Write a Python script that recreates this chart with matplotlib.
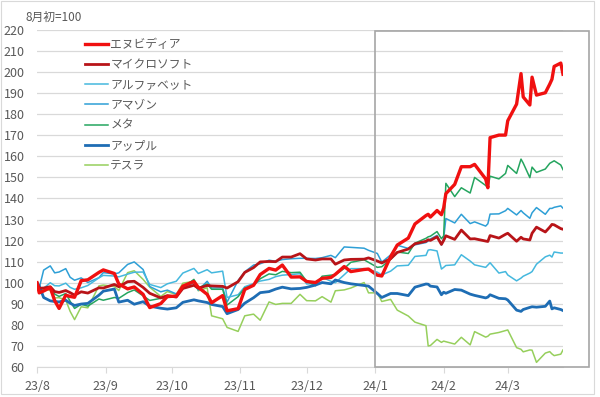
import numpy as np
import pandas as pd
import matplotlib
matplotlib.use('Agg')
import matplotlib.pyplot as plt
from matplotlib.patches import Rectangle

plt.rcParams['font.family'] = ['Noto Sans CJK JP', 'DejaVu Sans']

#---------------- data (index, 8月初=100) ----------------
dates = ['2023-08-01', '2023-08-02', '2023-08-04', '2023-08-07', '2023-08-09', '2023-08-11',
         '2023-08-14', '2023-08-16', '2023-08-18', '2023-08-21', '2023-08-24', '2023-08-29',
         '2023-08-31', '2023-09-05', '2023-09-07', '2023-09-11', '2023-09-14', '2023-09-18',
         '2023-09-21', '2023-09-26', '2023-09-29', '2023-10-03', '2023-10-06', '2023-10-11',
         '2023-10-13', '2023-10-17', '2023-10-19', '2023-10-24', '2023-10-26', '2023-10-31',
         '2023-11-03', '2023-11-07', '2023-11-10', '2023-11-14', '2023-11-17', '2023-11-20',
         '2023-11-24', '2023-11-28', '2023-12-01', '2023-12-05', '2023-12-08', '2023-12-12',
         '2023-12-14', '2023-12-18', '2023-12-21', '2023-12-27', '2023-12-29', '2024-01-02',
         '2024-01-04', '2024-01-08', '2024-01-11', '2024-01-16', '2024-01-19', '2024-01-24',
         '2024-01-25', '2024-01-26', '2024-01-29', '2024-01-31', '2024-02-01', '2024-02-02',
         '2024-02-06', '2024-02-09', '2024-02-13', '2024-02-15', '2024-02-20', '2024-02-21',
         '2024-02-22', '2024-02-26', '2024-02-29', '2024-03-01', '2024-03-05', '2024-03-07',
         '2024-03-08', '2024-03-11', '2024-03-12', '2024-03-14', '2024-03-18', '2024-03-20',
         '2024-03-21', '2024-03-22', '2024-03-25', '2024-03-26']

nvidia = [100.0, 95.2, 96.1, 97.7, 91.5, 87.8, 94.1, 93.5, 93.1, 101.0, 101.4, 104.9,
          106.1, 104.4, 99.4, 97.1, 98.0, 94.5, 88.2, 90.1, 93.5, 93.6, 98.4, 100.6,
          97.8, 94.5, 90.5, 93.9, 86.7, 87.7, 96.8, 98.8, 103.9, 106.8, 106.0, 108.4,
          102.7, 102.8, 100.6, 100.1, 102.1, 102.5, 104.0, 107.7, 105.3, 106.3, 106.5, 103.6,
          103.2, 112.4, 117.9, 121.2, 127.9, 131.9, 132.5, 131.2, 134.3, 132.3, 135.5, 142.3,
          146.7, 155.1, 155.1, 156.2, 149.3, 145.1, 168.9, 170.1, 170.1, 176.9, 184.8, 199.3,
          188.2, 184.4, 197.6, 189.1, 190.2, 194.3, 196.6, 202.7, 204.3, 199.0]

microsoft = [100.0, 97.4, 97.5, 98.1, 95.8, 95.4, 96.3, 95.3, 94.1, 95.7, 95.1, 97.6,
             97.5, 99.2, 98.1, 100.5, 100.7, 97.8, 95.0, 92.8, 93.9, 93.2, 97.3, 98.8,
             97.4, 98.7, 98.5, 98.3, 97.5, 100.5, 104.9, 107.2, 109.9, 110.1, 110.0, 112.2,
             112.2, 113.8, 111.3, 110.8, 111.3, 111.3, 108.8, 110.8, 111.1, 111.2, 111.8, 110.3,
             109.4, 111.4, 114.4, 116.0, 118.5, 119.7, 120.4, 120.1, 121.8, 118.2, 120.1, 122.3,
             120.6, 125.0, 120.8, 120.9, 119.8, 119.6, 122.4, 121.2, 123.0, 123.5, 119.7, 121.6,
             120.8, 120.3, 123.5, 126.4, 124.1, 126.4, 127.7, 127.5, 125.7, 125.4]

alphabet = [100.0, 97.6, 97.4, 100.0, 98.6, 98.5, 99.8, 97.8, 96.9, 97.6, 98.7, 102.3,
            103.5, 103.2, 102.8, 104.1, 105.0, 105.1, 99.2, 97.7, 99.5, 100.7, 104.6, 106.8,
            104.4, 106.2, 104.7, 105.5, 93.0, 94.3, 98.1, 99.6, 100.8, 101.6, 102.9, 103.6,
            103.9, 104.3, 99.4, 99.6, 102.6, 100.7, 100.0, 103.8, 106.7, 106.7, 106.2, 105.0,
            103.7, 105.5, 108.0, 108.3, 112.5, 113.0, 115.5, 115.7, 115.1, 106.5, 107.3, 108.2,
            108.5, 113.3, 110.3, 108.5, 107.3, 108.4, 109.5, 104.6, 105.3, 103.7, 100.9, 102.2,
            103.1, 104.6, 105.3, 108.8, 112.3, 113.1, 112.2, 114.6, 114.1, 114.1]

amazon = [100.0, 97.4, 106.0, 108.0, 104.7, 105.1, 106.7, 102.6, 101.2, 102.3, 100.1, 102.4,
          104.8, 104.2, 104.7, 108.7, 109.9, 106.3, 98.2, 95.7, 96.5, 94.7, 97.2, 100.1,
          96.5, 100.7, 97.5, 97.6, 90.8, 101.1, 105.2, 108.4, 109.0, 110.7, 110.2, 111.0,
          111.4, 111.6, 111.6, 111.5, 111.9, 113.0, 111.9, 117.0, 116.8, 116.4, 115.4, 113.9,
          109.8, 113.2, 117.8, 116.3, 118.0, 119.1, 119.8, 120.8, 122.5, 117.9, 121.0, 130.5,
          128.4, 132.5, 128.1, 128.9, 126.9, 128.0, 132.6, 132.7, 134.2, 135.3, 132.2, 134.3,
          133.2, 130.6, 133.2, 135.7, 132.5, 135.3, 135.3, 135.8, 136.5, 135.4]

meta = [100.0, 97.1, 96.3, 98.1, 94.6, 93.5, 94.9, 91.2, 87.8, 89.8, 88.9, 92.3,
        91.7, 93.0, 92.6, 95.3, 96.6, 93.8, 91.6, 92.6, 93.0, 93.3, 97.7, 101.6,
        97.5, 99.4, 96.9, 96.9, 89.4, 93.4, 97.5, 98.8, 101.9, 104.2, 103.8, 105.4,
        104.8, 105.0, 100.7, 98.6, 103.1, 103.6, 103.8, 106.8, 109.7, 110.9, 109.7, 107.3,
        107.6, 111.1, 114.6, 113.9, 118.8, 121.1, 121.8, 122.1, 124.3, 120.9, 122.3, 147.2,
        140.9, 145.1, 142.6, 150.0, 146.2, 145.0, 150.6, 149.3, 151.9, 155.7, 151.9, 158.7,
        156.8, 149.9, 154.9, 152.4, 154.0, 156.7, 157.3, 157.9, 155.9, 153.7]

apple = [100.0, 98.5, 93.0, 91.4, 91.1, 90.9, 91.7, 90.3, 89.2, 89.9, 90.2, 94.1,
         96.0, 97.0, 90.8, 91.7, 89.8, 91.0, 88.9, 87.9, 87.5, 88.1, 90.7, 91.9,
         91.4, 90.6, 89.7, 88.7, 85.3, 87.3, 90.3, 92.9, 95.3, 95.8, 97.0, 97.9,
         97.1, 97.3, 97.8, 98.9, 100.1, 99.5, 101.3, 100.1, 99.5, 98.7, 98.4, 94.9,
         93.0, 94.9, 94.9, 93.9, 97.9, 99.4, 99.3, 98.4, 98.0, 94.3, 95.5, 95.0,
         96.8, 96.5, 94.6, 94.0, 92.8, 93.2, 94.3, 92.6, 92.4, 91.8, 87.0, 86.4,
         87.3, 88.3, 88.6, 88.4, 88.8, 91.3, 87.6, 88.1, 87.3, 86.8]

tesla = [100.0, 97.3, 97.2, 96.3, 92.8, 92.9, 91.8, 86.4, 82.5, 88.6, 88.1, 98.5,
         98.9, 98.2, 96.3, 104.8, 105.7, 101.6, 97.9, 93.5, 95.8, 94.4, 99.8, 100.7,
         96.2, 97.6, 84.3, 82.9, 78.8, 76.9, 84.3, 85.1, 82.2, 90.9, 89.7, 90.2,
         90.2, 94.5, 91.5, 91.4, 93.4, 90.8, 96.2, 96.6, 97.5, 100.1, 95.2, 95.2,
         91.1, 92.1, 87.0, 84.2, 81.3, 79.6, 70.0, 70.2, 73.1, 71.7, 72.3, 72.0,
         70.9, 74.1, 70.5, 76.8, 74.2, 74.6, 75.6, 76.4, 77.3, 77.6, 69.2, 68.4,
         67.2, 68.1, 68.0, 62.2, 66.6, 67.3, 66.2, 65.4, 66.1, 68.1]

names = ['エヌビディア', 'マイクロソフト', 'アルファベット', 'アマゾン', 'メタ', 'アップル', 'テスラ']
series = [nvidia, microsoft, alphabet, amazon, meta, apple, tesla]
colors = ['#f01010', '#b81418', '#45b8de', '#2e9fd6', '#25a55f', '#1e6db4', '#96cf5c']
widths = [2.4, 2.0, 1.1, 1.1, 1.1, 2.0, 1.1]
# draw order: thin ones first, red on top
zorder = [9, 7, 4, 3, 5, 6, 2]

tick_labels = ['23/8', '23/9', '23/10', '23/11', '23/12', '24/1', '24/2', '24/3']

#---------------- figure ----------------
W, H = 600, 397
fig = plt.figure(figsize=(W/100, H/100), dpi=100)
ax = fig.add_axes([37/W, 1-367/H, (563-37)/W, 337/H])

x = pd.to_datetime(dates)
for name, y, c, lw, z in zip(names, series, colors, widths, zorder):
    ax.plot(x, y, color=c, lw=lw, label=name, zorder=z, solid_joinstyle='round')

ax.set_xlim(x[0], x[-1])
ax.set_ylim(60, 220)
ax.set_yticks(np.arange(60, 221, 10))
ax.grid(axis='y', color='#d9d9d9', lw=0.9)
ax.set_axisbelow(True)

tick_pos = pd.date_range('2023-08-01', periods=8, freq='MS')
ax.set_xticks(tick_pos)
ax.set_xticklabels(tick_labels)

for s in ['top', 'right', 'left']:
    ax.spines[s].set_visible(False)
ax.spines['bottom'].set_color('#d9d9d9')
ax.tick_params(axis='y', length=0, pad=9, labelsize=9, labelcolor='#595959')
ax.tick_params(axis='x', length=4, color='#d9d9d9', pad=5, labelsize=9, labelcolor='#595959')

fig.text(25/W, 1-17/H, '8月初=100', fontsize=8.5, color='#595959', va='center', ha='left')

leg = ax.legend(loc='upper left', bbox_to_anchor=(79/W, 1-32/H), bbox_transform=fig.transFigure,
                frameon=False, fontsize=8.5, borderpad=0, handlelength=1.95, handletextpad=0.2,
                labelspacing=0.61)
for t in leg.get_texts():
    t.set_color('#595959')

# highlight box for 2024
box = Rectangle((375/W, 1-367/H), (589-375)/W, (367-31)/H, transform=fig.transFigure,
                fill=False, edgecolor='#a6a6a6', lw=1.2, zorder=20)
fig.add_artist(box)

# chart border
border = Rectangle((0.5/W, 1-394/H), 593/W, 393/H, transform=fig.transFigure,
                   fill=False, edgecolor='#d9d9d9', lw=0.8)
fig.add_artist(border)

fig.savefig('out.png', dpi=100)
